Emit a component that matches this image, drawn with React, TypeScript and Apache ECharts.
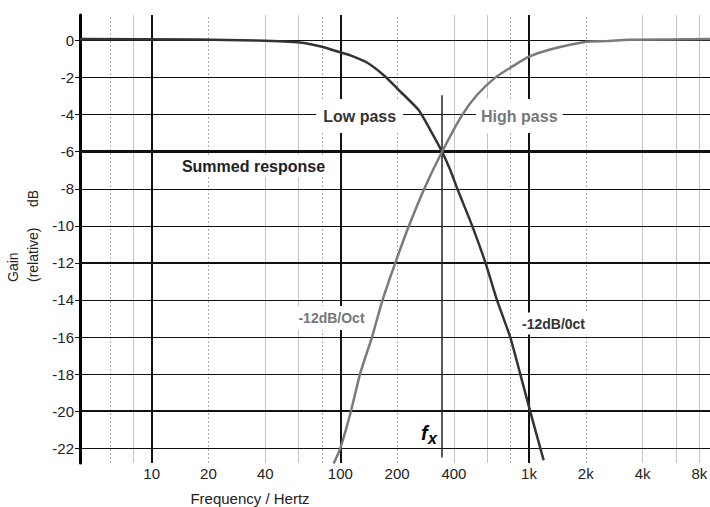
import React, { useEffect, useRef } from "react";
import * as echarts from "echarts";

// ---- data ----
const lowPassFreq = [4.17, 17.5, 36, 61, 80, 100, 113, 139, 171, 208, 260, 300, 346, 383, 417, 500, 588, 676, 795, 899, 1014, 1196];
const lowPassGain = [0.08, 0.06, 0.0, -0.1, -0.33, -0.64, -0.8, -1.2, -1.9, -2.75, -3.75, -4.83, -6.0, -7.0, -8.0, -10.0, -12.0, -14.0, -16.0, -18.0, -20.0, -22.65];

const highPassFreq = [92.2, 100, 113, 127.6, 147.2, 167.5, 195.6, 230, 279, 346, 442, 530, 662, 830, 1000, 1293, 2016, 2587, 3377, 9107];
const highPassGain = [-22.83, -22.0, -20.13, -17.95, -16.0, -14.0, -12.0, -10.05, -7.98, -6.0, -4.02, -2.94, -2.0, -1.35, -0.87, -0.48, -0.06, -0.03, 0.04, 0.08];

const gainTicks = [0, -2, -4, -6, -8, -10, -12, -14, -16, -18, -20, -22];
const heavyGains = [-6];
const mediumGains = [-12, -20];

const decadeFreqs = [10, 100, 1000];
const minorSolidFreqs = [8, 40, 60, 400, 600, 4000, 6000, 8000];
const minorDottedFreqs = [6, 20, 80, 200, 800, 2000];
const freqTickValues = [10, 20, 40, 100, 200, 400, 1000, 2000, 4000, 8000];
const freqTickLabels = ["10", "20", "40", "100", "200", "400", "1k", "2k", "4k", "8k"];

const crossoverFreq = 346;
const crossoverTop = -2.95;
const crossoverBottom = -22.5;

const X_MIN = 4.17;
const X_MAX = 9107;
const Y_MIN = -22.8;
const Y_MAX = 1.38;

const FONT = '"Liberation Sans", Arial, Helvetica, sans-serif';

export default function App() {
  const ref = useRef<HTMLDivElement>(null);

  useEffect(() => {
    document.body.style.margin = "0";
    if (!ref.current) return;
    const chart = echarts.init(ref.current, undefined, { renderer: "svg" });

    const labelFor = (f: number) => {
      const i = freqTickValues.indexOf(f);
      if (i < 0) return { show: false };
      return {
        show: true,
        position: "start",
        distance: 3,
        formatter: freqTickLabels[i],
        color: "#222",
        fontSize: 15,
        fontFamily: FONT,
      };
    };

    const vLines: any[] = [];
    decadeFreqs.forEach((f) =>
      vLines.push({ xAxis: f, lineStyle: { color: "#111", width: 2, type: "solid" }, label: labelFor(f) })
    );
    minorSolidFreqs.forEach((f) =>
      vLines.push({ xAxis: f, lineStyle: { color: "#c4c4c4", width: 1, type: "solid" }, label: labelFor(f) })
    );
    minorDottedFreqs.forEach((f) =>
      vLines.push({ xAxis: f, lineStyle: { color: "#b0b0b0", width: 1, type: [2, 2] }, label: labelFor(f) })
    );

    const hLines: any[] = gainTicks.map((g) => ({
      yAxis: g,
      lineStyle: {
        color: "#111",
        width: heavyGains.includes(g) ? 3 : mediumGains.includes(g) ? 2 : 1,
        type: "solid",
      },
      label: { show: false },
    }));

    const crossLine: any = [
      { coord: [crossoverFreq, crossoverTop], lineStyle: { color: "#222", width: 1.5, type: "solid" }, label: { show: false } },
      { coord: [crossoverFreq, crossoverBottom] },
    ];

    chart.setOption({
      animation: false,
      backgroundColor: "#fff",
      grid: { left: 80, right: 0, top: 15, bottom: 44, containLabel: false },
      xAxis: {
        type: "log",
        logBase: 10,
        min: X_MIN,
        max: X_MAX,
        axisLine: { show: false },
        axisTick: { show: false },
        axisLabel: { show: false },
        splitLine: { show: false },
        minorSplitLine: { show: false },
      },
      yAxis: {
        type: "value",
        min: Y_MIN,
        max: Y_MAX,
        axisLine: { show: true, onZero: false, lineStyle: { color: "#000", width: 3 } },
        axisTick: { show: true, length: 5, customValues: gainTicks, lineStyle: { color: "#111", width: 1 } },
        axisLabel: {
          show: true,
          customValues: gainTicks,
          margin: 6,
          color: "#222",
          fontSize: 15,
          fontFamily: FONT,
        },
        splitLine: { show: false },
      },
      series: [
        {
          type: "line",
          name: "grid",
          data: [],
          silent: true,
          markLine: {
            silent: true,
            z: 1,
            symbol: ["none", "none"],
            label: { show: false },
            data: [...vLines, ...hLines, crossLine],
          },
        },
        {
          type: "line",
          name: "Low pass",
          z: 3,
          data: lowPassFreq.map((f, i) => [f, lowPassGain[i]]),
          showSymbol: false,
          smooth: 0.2,
          lineStyle: { color: "#333", width: 2.5 },
        },
        {
          type: "line",
          name: "High pass",
          z: 3,
          data: highPassFreq.map((f, i) => [f, highPassGain[i]]),
          showSymbol: false,
          smooth: 0.2,
          lineStyle: { color: "#7a7a7a", width: 2.5 },
        },
      ],
      graphic: [
        {
          type: "text", z: 10, x: 359.7, y: 116,
          style: { text: "Low pass", fill: "#333", font: `bold 16px ${FONT}`, align: "center", verticalAlign: "middle", backgroundColor: "#fff", padding: [9, 7] },
        },
        {
          type: "text", z: 10, x: 519.3, y: 116,
          style: { text: "High pass", fill: "#777", font: `bold 16px ${FONT}`, align: "center", verticalAlign: "middle", backgroundColor: "#fff", padding: [9, 5] },
        },
        {
          type: "text", z: 10, x: 253.5, y: 166,
          style: { text: "Summed response", fill: "#222", font: `bold 16px ${FONT}`, align: "center", verticalAlign: "middle", backgroundColor: "#fff", padding: [3, 6] },
        },
        {
          type: "text", z: 10, x: 331.5, y: 318,
          style: { text: "-12dB/Oct", fill: "#777", font: `bold 14px ${FONT}`, align: "center", verticalAlign: "middle", backgroundColor: "#fff", padding: [5, 3] },
        },
        {
          type: "text", z: 10, x: 553.5, y: 323.5,
          style: { text: "-12dB/0ct", fill: "#333", font: `bold 14px ${FONT}`, align: "center", verticalAlign: "middle", backgroundColor: "#fff", padding: [4, 3] },
        },
        {
          type: "text", z: 10, x: 421, y: 433,
          style: { text: "f", fill: "#000", font: `italic bold 20px ${FONT}`, align: "left", verticalAlign: "middle" },
        },
        {
          type: "text", z: 10, x: 428, y: 438,
          style: { text: "x", fill: "#000", font: `italic bold 16px ${FONT}`, align: "left", verticalAlign: "middle" },
        },
        {
          type: "text", z: 10, x: 250, y: 498,
          style: { text: "Frequency / Hertz", fill: "#222", font: `15px ${FONT}`, align: "center", verticalAlign: "middle" },
        },
        {
          type: "text", z: 10, x: 13, y: 282, rotation: Math.PI / 2,
          style: { text: "Gain", fill: "#222", font: `14px ${FONT}`, align: "left", verticalAlign: "middle" },
        },
        {
          type: "text", z: 10, x: 33, y: 282, rotation: Math.PI / 2,
          style: { text: "(relative)", fill: "#222", font: `14px ${FONT}`, align: "left", verticalAlign: "middle" },
        },
        {
          type: "text", z: 10, x: 33, y: 207, rotation: Math.PI / 2,
          style: { text: "dB", fill: "#222", font: `14px ${FONT}`, align: "left", verticalAlign: "middle" },
        },
      ],
    });

    return () => chart.dispose();
  }, []);

  return <div ref={ref} style={{ width: 710, height: 507 }} />;
}
